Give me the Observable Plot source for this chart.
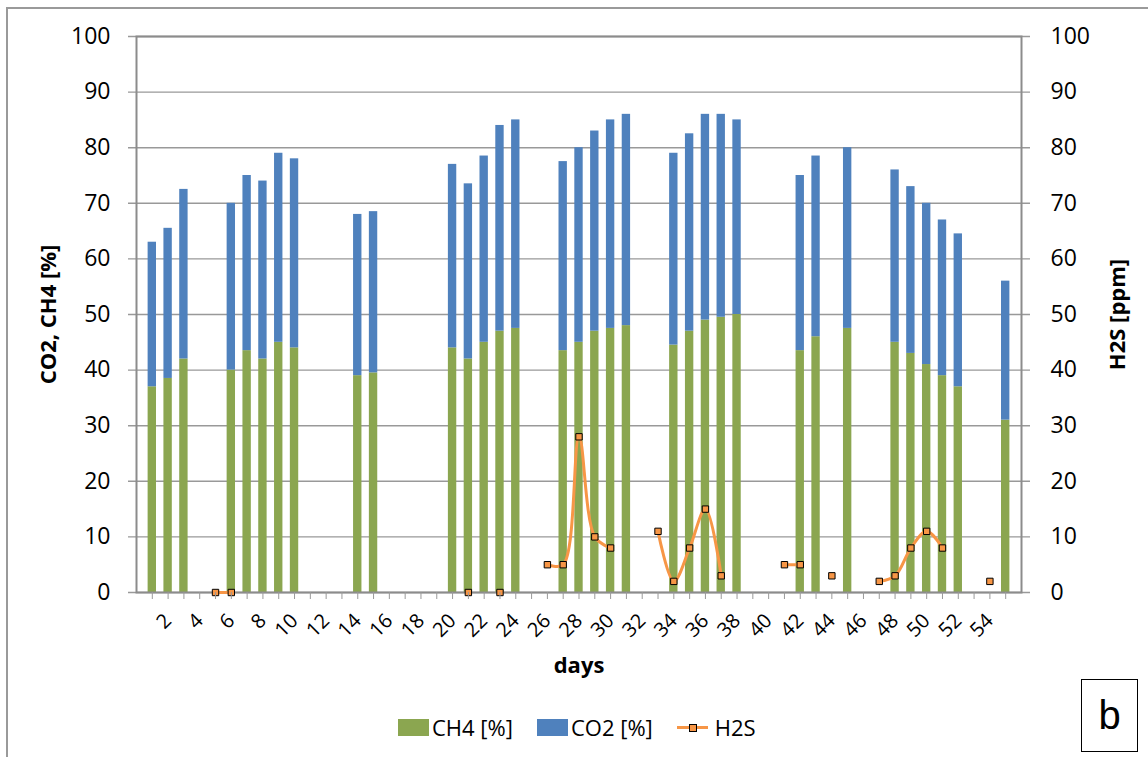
<!DOCTYPE html>
<html><head><meta charset="utf-8">
<script src="https://cdn.jsdelivr.net/npm/d3@7"></script>
<script src="https://cdn.jsdelivr.net/npm/@observablehq/plot@0.6"></script>
<style>
body{margin:0;background:#fff;font-family:"Open Sans",sans-serif;}
#wrap{position:relative;width:1148px;height:757px;overflow:hidden;background:#fff;}
#chart{position:absolute;left:0;top:0;}
#frameL{position:absolute;left:6px;top:7px;width:2px;height:760px;background:#9a9a9a;}
#frameT{position:absolute;left:6px;top:7px;width:1142px;height:2px;background:#9a9a9a;}
#legend{position:absolute;left:398px;top:712px;display:flex;align-items:center;font-size:22px;color:#000;line-height:30px;}
.item{display:flex;align-items:center;margin-right:24px;}
.sw{width:31px;height:17px;margin-right:3px;}
.ln{position:relative;width:31px;height:17px;margin-right:7px;}
.ln:before{content:"";position:absolute;left:0;right:0;top:7px;height:3px;background:#F79646;}
.ln:after{content:"";position:absolute;left:12px;top:5px;width:6px;height:6px;background:#F79646;border:1px solid #000;}
#tag{position:absolute;left:1081px;top:679px;width:57px;height:73px;box-sizing:border-box;border:1.5px solid #000;font-family:"Liberation Sans",Arial,sans-serif;font-size:40px;display:flex;align-items:center;justify-content:center;color:#000;background:#fff;}
</style></head><body>
<div id="wrap">
<div id="chart"></div>
<div id="frameL"></div><div id="frameT"></div>
<div id="legend">
 <div class="item"><div class="sw" style="background:#8BA650"></div><span>CH4 [%]</span></div>
 <div class="item"><div class="sw" style="background:#4F81BD"></div><span>CO2 [%]</span></div>
 <div class="item"><div class="ln"></div><span>H2S</span></div>
</div>
<div id="tag">b</div>
</div>
<script>
// ---- data ----
const days = [1,2,3,6,7,8,9,10,14,15,20,21,22,23,24,27,28,29,30,31,34,35,36,37,38,42,43,45,48,49,50,51,52,55];
const ch4  = [37,38.5,42,40,43.5,42,45,44,39,39.5,44,42,45,47,47.5,43.5,45,47,47.5,48,44.5,47,49,49.5,50,43.5,46,47.5,45,43,41,39,37,31];
const co2  = [26,27,30.5,30,31.5,32,34,34,29,29,33,31.5,33.5,37,37.5,34,35,36,37.5,38,34.5,35.5,37,36.5,35,31.5,32.5,32.5,31,30,29,28,27.5,25];
const h2sDays = [5,6,21,23,26,27,28,29,30,33,34,35,36,37,41,42,44,47,48,49,50,51,54];
const h2s     = [0,0,0,0,5,5,28,10,8,11,2,8,15,3,5,5,3,2,3,8,11,8,2];
const allDays = d3.range(1, 56);
const yTicks = d3.range(0, 101, 10);
const gasNames = ["CH4 [%]", "CO2 [%]"];
const gasColors = ["#8BA650", "#4F81BD"];

// ---- tables ----
const bars = days.flatMap((d, i) => [
  {day: d, gas: gasNames[0], v: ch4[i]},
  {day: d, gas: gasNames[1], v: co2[i]}
]);
const h2sMap = new Map(h2sDays.map((d, i) => [d, h2s[i]]));
const h2sSeries = allDays.map(d => ({day: d, v: h2sMap.has(d) ? h2sMap.get(d) : null}));
const h2sPoints = h2sDays.map((d, i) => ({day: d, v: h2s[i]}));

const chart = Plot.plot({
  width: 1148, height: 757,
  marginLeft: 136, marginRight: 127, marginTop: 36, marginBottom: 165,
  style: {fontFamily: "Open Sans", color: "#000", background: "transparent", overflow: "visible"},
  x: {type: "band", domain: allDays, paddingInner: 0.47, paddingOuter: 0.735, align: 0.5},
  y: {domain: [0, 100]},
  color: {domain: gasNames, range: gasColors},
  marks: [
    Plot.ruleY(yTicks, {stroke: "#999", strokeWidth: 1.4, insetLeft: -8, insetRight: -9}),
    Plot.barY(bars, {x: "day", y: "v", fill: "gas"}),
    Plot.frame({stroke: "#8c8c8c", strokeWidth: 2}),
    Plot.line(h2sSeries, {x: "day", y: "v", stroke: "#F79646", strokeWidth: 3, curve: "catmull-rom"}),
    Plot.dot(h2sPoints, {x: "day", y: "v", symbol: "square", r: 3.6, fill: "#F79646", stroke: "#000", strokeWidth: 1}),
    Plot.axisX({ticks: allDays, tickSize: 7, tickPadding: 18, tickRotate: -45, fontSize: 20,
      tickFormat: d => d % 2 === 0 ? String(d) : "", stroke: "#999", label: null}),
    Plot.axisY({ticks: yTicks, tickSize: 0, tickPadding: 26, fontSize: 23, label: null}),
    Plot.axisY({anchor: "right", ticks: yTicks, tickSize: 0, tickPadding: 29, fontSize: 23, label: null}),
    Plot.text(["CO2, CH4 [%]"], {frameAnchor: "left", dx: -88, rotate: -90, textAnchor: "middle", fontSize: 22, fontWeight: "bold"}),
    Plot.text(["H2S [ppm]"], {frameAnchor: "right", dx: 96, rotate: -90, textAnchor: "middle", fontSize: 22, fontWeight: "bold"}),
    Plot.text(["days"], {frameAnchor: "bottom", dy: 80, fontSize: 22, fontWeight: "bold"})
  ]
});
document.getElementById("chart").appendChild(chart);
</script>
</body></html>
